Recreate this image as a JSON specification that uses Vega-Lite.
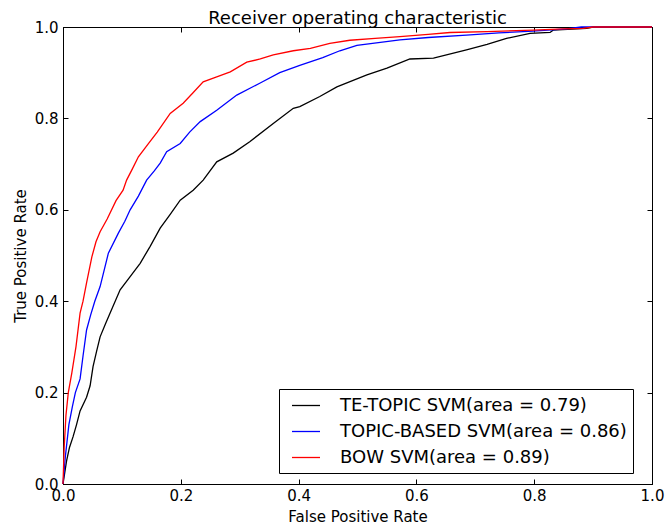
{
  "$schema": "https://vega.github.io/schema/vega-lite/v6.json",
  "width": 589,
  "height": 457,
  "autosize": "none",
  "padding": {"left": 63, "top": 27, "right": 13, "bottom": 47},
  "title": {"text": "Receiver operating characteristic", "fontSize": 18, "font": "DejaVu Sans", "fontWeight": "normal", "color": "black", "offset": -8},
  "config": {
    "font": "DejaVu Sans",
    "view": {"stroke": "black", "strokeWidth": 1},
    "axis": {
      "grid": false,
      "domainColor": "black",
      "tickColor": "black",
      "tickSize": -5,
      "labelFlush": false,
      "labelFontSize": 15,
      "labelColor": "black",
      "titleFontSize": 15,
      "titleFontWeight": "normal",
      "titleColor": "black"
    }
  },
  "data": {
    "values": [
      {"model": "TE-TOPIC SVM(area = 0.79)", "fpr": 0, "tpr": 0},
      {"model": "TE-TOPIC SVM(area = 0.79)", "fpr": 0.006, "tpr": 0.05},
      {"model": "TE-TOPIC SVM(area = 0.79)", "fpr": 0.011, "tpr": 0.08},
      {"model": "TE-TOPIC SVM(area = 0.79)", "fpr": 0.017, "tpr": 0.103},
      {"model": "TE-TOPIC SVM(area = 0.79)", "fpr": 0.023, "tpr": 0.13},
      {"model": "TE-TOPIC SVM(area = 0.79)", "fpr": 0.029, "tpr": 0.16},
      {"model": "TE-TOPIC SVM(area = 0.79)", "fpr": 0.04, "tpr": 0.19},
      {"model": "TE-TOPIC SVM(area = 0.79)", "fpr": 0.046, "tpr": 0.215},
      {"model": "TE-TOPIC SVM(area = 0.79)", "fpr": 0.051, "tpr": 0.257},
      {"model": "TE-TOPIC SVM(area = 0.79)", "fpr": 0.057, "tpr": 0.29},
      {"model": "TE-TOPIC SVM(area = 0.79)", "fpr": 0.063, "tpr": 0.322},
      {"model": "TE-TOPIC SVM(area = 0.79)", "fpr": 0.072, "tpr": 0.35},
      {"model": "TE-TOPIC SVM(area = 0.79)", "fpr": 0.08, "tpr": 0.374},
      {"model": "TE-TOPIC SVM(area = 0.79)", "fpr": 0.097, "tpr": 0.425},
      {"model": "TE-TOPIC SVM(area = 0.79)", "fpr": 0.114, "tpr": 0.454},
      {"model": "TE-TOPIC SVM(area = 0.79)", "fpr": 0.131, "tpr": 0.483},
      {"model": "TE-TOPIC SVM(area = 0.79)", "fpr": 0.148, "tpr": 0.52},
      {"model": "TE-TOPIC SVM(area = 0.79)", "fpr": 0.165, "tpr": 0.56},
      {"model": "TE-TOPIC SVM(area = 0.79)", "fpr": 0.182, "tpr": 0.59},
      {"model": "TE-TOPIC SVM(area = 0.79)", "fpr": 0.199, "tpr": 0.621},
      {"model": "TE-TOPIC SVM(area = 0.79)", "fpr": 0.221, "tpr": 0.643},
      {"model": "TE-TOPIC SVM(area = 0.79)", "fpr": 0.238, "tpr": 0.665},
      {"model": "TE-TOPIC SVM(area = 0.79)", "fpr": 0.261, "tpr": 0.705},
      {"model": "TE-TOPIC SVM(area = 0.79)", "fpr": 0.289, "tpr": 0.724},
      {"model": "TE-TOPIC SVM(area = 0.79)", "fpr": 0.317, "tpr": 0.749},
      {"model": "TE-TOPIC SVM(area = 0.79)", "fpr": 0.357, "tpr": 0.789},
      {"model": "TE-TOPIC SVM(area = 0.79)", "fpr": 0.391, "tpr": 0.822},
      {"model": "TE-TOPIC SVM(area = 0.79)", "fpr": 0.402, "tpr": 0.826},
      {"model": "TE-TOPIC SVM(area = 0.79)", "fpr": 0.436, "tpr": 0.848},
      {"model": "TE-TOPIC SVM(area = 0.79)", "fpr": 0.465, "tpr": 0.869},
      {"model": "TE-TOPIC SVM(area = 0.79)", "fpr": 0.516, "tpr": 0.895},
      {"model": "TE-TOPIC SVM(area = 0.79)", "fpr": 0.55, "tpr": 0.91},
      {"model": "TE-TOPIC SVM(area = 0.79)", "fpr": 0.589, "tpr": 0.93},
      {"model": "TE-TOPIC SVM(area = 0.79)", "fpr": 0.629, "tpr": 0.932},
      {"model": "TE-TOPIC SVM(area = 0.79)", "fpr": 0.685, "tpr": 0.95},
      {"model": "TE-TOPIC SVM(area = 0.79)", "fpr": 0.72, "tpr": 0.962},
      {"model": "TE-TOPIC SVM(area = 0.79)", "fpr": 0.753, "tpr": 0.975},
      {"model": "TE-TOPIC SVM(area = 0.79)", "fpr": 0.793, "tpr": 0.986},
      {"model": "TE-TOPIC SVM(area = 0.79)", "fpr": 0.827, "tpr": 0.988},
      {"model": "TE-TOPIC SVM(area = 0.79)", "fpr": 0.832, "tpr": 0.993},
      {"model": "TE-TOPIC SVM(area = 0.79)", "fpr": 0.889, "tpr": 0.997},
      {"model": "TE-TOPIC SVM(area = 0.79)", "fpr": 0.9, "tpr": 1.0},
      {"model": "TE-TOPIC SVM(area = 0.79)", "fpr": 1.0, "tpr": 1.0},

      {"model": "TOPIC-BASED SVM(area = 0.86)", "fpr": 0, "tpr": 0},
      {"model": "TOPIC-BASED SVM(area = 0.86)", "fpr": 0.004, "tpr": 0.06},
      {"model": "TOPIC-BASED SVM(area = 0.86)", "fpr": 0.01, "tpr": 0.13},
      {"model": "TOPIC-BASED SVM(area = 0.86)", "fpr": 0.016, "tpr": 0.17},
      {"model": "TOPIC-BASED SVM(area = 0.86)", "fpr": 0.021, "tpr": 0.2},
      {"model": "TOPIC-BASED SVM(area = 0.86)", "fpr": 0.029, "tpr": 0.23},
      {"model": "TOPIC-BASED SVM(area = 0.86)", "fpr": 0.034, "tpr": 0.28},
      {"model": "TOPIC-BASED SVM(area = 0.86)", "fpr": 0.04, "tpr": 0.337},
      {"model": "TOPIC-BASED SVM(area = 0.86)", "fpr": 0.047, "tpr": 0.37},
      {"model": "TOPIC-BASED SVM(area = 0.86)", "fpr": 0.054, "tpr": 0.4},
      {"model": "TOPIC-BASED SVM(area = 0.86)", "fpr": 0.063, "tpr": 0.432},
      {"model": "TOPIC-BASED SVM(area = 0.86)", "fpr": 0.077, "tpr": 0.505},
      {"model": "TOPIC-BASED SVM(area = 0.86)", "fpr": 0.094, "tpr": 0.549},
      {"model": "TOPIC-BASED SVM(area = 0.86)", "fpr": 0.105, "tpr": 0.575},
      {"model": "TOPIC-BASED SVM(area = 0.86)", "fpr": 0.114, "tpr": 0.6},
      {"model": "TOPIC-BASED SVM(area = 0.86)", "fpr": 0.128, "tpr": 0.63},
      {"model": "TOPIC-BASED SVM(area = 0.86)", "fpr": 0.142, "tpr": 0.665},
      {"model": "TOPIC-BASED SVM(area = 0.86)", "fpr": 0.155, "tpr": 0.685},
      {"model": "TOPIC-BASED SVM(area = 0.86)", "fpr": 0.165, "tpr": 0.702},
      {"model": "TOPIC-BASED SVM(area = 0.86)", "fpr": 0.176, "tpr": 0.727},
      {"model": "TOPIC-BASED SVM(area = 0.86)", "fpr": 0.199, "tpr": 0.745},
      {"model": "TOPIC-BASED SVM(area = 0.86)", "fpr": 0.215, "tpr": 0.77},
      {"model": "TOPIC-BASED SVM(area = 0.86)", "fpr": 0.233, "tpr": 0.793},
      {"model": "TOPIC-BASED SVM(area = 0.86)", "fpr": 0.261, "tpr": 0.818},
      {"model": "TOPIC-BASED SVM(area = 0.86)", "fpr": 0.295, "tpr": 0.851},
      {"model": "TOPIC-BASED SVM(area = 0.86)", "fpr": 0.334, "tpr": 0.877},
      {"model": "TOPIC-BASED SVM(area = 0.86)", "fpr": 0.368, "tpr": 0.9},
      {"model": "TOPIC-BASED SVM(area = 0.86)", "fpr": 0.402, "tpr": 0.916},
      {"model": "TOPIC-BASED SVM(area = 0.86)", "fpr": 0.441, "tpr": 0.933},
      {"model": "TOPIC-BASED SVM(area = 0.86)", "fpr": 0.47, "tpr": 0.948},
      {"model": "TOPIC-BASED SVM(area = 0.86)", "fpr": 0.499, "tpr": 0.96},
      {"model": "TOPIC-BASED SVM(area = 0.86)", "fpr": 0.572, "tpr": 0.972},
      {"model": "TOPIC-BASED SVM(area = 0.86)", "fpr": 0.62, "tpr": 0.977},
      {"model": "TOPIC-BASED SVM(area = 0.86)", "fpr": 0.685, "tpr": 0.982},
      {"model": "TOPIC-BASED SVM(area = 0.86)", "fpr": 0.74, "tpr": 0.987},
      {"model": "TOPIC-BASED SVM(area = 0.86)", "fpr": 0.798, "tpr": 0.991},
      {"model": "TOPIC-BASED SVM(area = 0.86)", "fpr": 0.855, "tpr": 0.996},
      {"model": "TOPIC-BASED SVM(area = 0.86)", "fpr": 0.88, "tpr": 1.0},
      {"model": "TOPIC-BASED SVM(area = 0.86)", "fpr": 1.0, "tpr": 1.0},

      {"model": "BOW SVM(area = 0.89)", "fpr": 0, "tpr": 0},
      {"model": "BOW SVM(area = 0.89)", "fpr": 0.002, "tpr": 0.08},
      {"model": "BOW SVM(area = 0.89)", "fpr": 0.005, "tpr": 0.15},
      {"model": "BOW SVM(area = 0.89)", "fpr": 0.009, "tpr": 0.2},
      {"model": "BOW SVM(area = 0.89)", "fpr": 0.015, "tpr": 0.243},
      {"model": "BOW SVM(area = 0.89)", "fpr": 0.022, "tpr": 0.3},
      {"model": "BOW SVM(area = 0.89)", "fpr": 0.029, "tpr": 0.374},
      {"model": "BOW SVM(area = 0.89)", "fpr": 0.034, "tpr": 0.4},
      {"model": "BOW SVM(area = 0.89)", "fpr": 0.04, "tpr": 0.44},
      {"model": "BOW SVM(area = 0.89)", "fpr": 0.049, "tpr": 0.497},
      {"model": "BOW SVM(area = 0.89)", "fpr": 0.056, "tpr": 0.53},
      {"model": "BOW SVM(area = 0.89)", "fpr": 0.063, "tpr": 0.552},
      {"model": "BOW SVM(area = 0.89)", "fpr": 0.075, "tpr": 0.58},
      {"model": "BOW SVM(area = 0.89)", "fpr": 0.09, "tpr": 0.62},
      {"model": "BOW SVM(area = 0.89)", "fpr": 0.102, "tpr": 0.643},
      {"model": "BOW SVM(area = 0.89)", "fpr": 0.108, "tpr": 0.665},
      {"model": "BOW SVM(area = 0.89)", "fpr": 0.118, "tpr": 0.69},
      {"model": "BOW SVM(area = 0.89)", "fpr": 0.128, "tpr": 0.716},
      {"model": "BOW SVM(area = 0.89)", "fpr": 0.145, "tpr": 0.745},
      {"model": "BOW SVM(area = 0.89)", "fpr": 0.16, "tpr": 0.77},
      {"model": "BOW SVM(area = 0.89)", "fpr": 0.182, "tpr": 0.811},
      {"model": "BOW SVM(area = 0.89)", "fpr": 0.204, "tpr": 0.833},
      {"model": "BOW SVM(area = 0.89)", "fpr": 0.22, "tpr": 0.855},
      {"model": "BOW SVM(area = 0.89)", "fpr": 0.238, "tpr": 0.88},
      {"model": "BOW SVM(area = 0.89)", "fpr": 0.261, "tpr": 0.891},
      {"model": "BOW SVM(area = 0.89)", "fpr": 0.284, "tpr": 0.902},
      {"model": "BOW SVM(area = 0.89)", "fpr": 0.312, "tpr": 0.923},
      {"model": "BOW SVM(area = 0.89)", "fpr": 0.335, "tpr": 0.93},
      {"model": "BOW SVM(area = 0.89)", "fpr": 0.357, "tpr": 0.939},
      {"model": "BOW SVM(area = 0.89)", "fpr": 0.391, "tpr": 0.948},
      {"model": "BOW SVM(area = 0.89)", "fpr": 0.42, "tpr": 0.953},
      {"model": "BOW SVM(area = 0.89)", "fpr": 0.453, "tpr": 0.964},
      {"model": "BOW SVM(area = 0.89)", "fpr": 0.487, "tpr": 0.971},
      {"model": "BOW SVM(area = 0.89)", "fpr": 0.53, "tpr": 0.975},
      {"model": "BOW SVM(area = 0.89)", "fpr": 0.572, "tpr": 0.979},
      {"model": "BOW SVM(area = 0.89)", "fpr": 0.62, "tpr": 0.984},
      {"model": "BOW SVM(area = 0.89)", "fpr": 0.657, "tpr": 0.988},
      {"model": "BOW SVM(area = 0.89)", "fpr": 0.72, "tpr": 0.99},
      {"model": "BOW SVM(area = 0.89)", "fpr": 0.798, "tpr": 0.993},
      {"model": "BOW SVM(area = 0.89)", "fpr": 0.85, "tpr": 0.996},
      {"model": "BOW SVM(area = 0.89)", "fpr": 0.883, "tpr": 0.997},
      {"model": "BOW SVM(area = 0.89)", "fpr": 0.9, "tpr": 1.0},
      {"model": "BOW SVM(area = 0.89)", "fpr": 1.0, "tpr": 1.0}
    ]
  },
  "layer": [
    {
      "mark": {"type": "line", "strokeWidth": 1.3, "interpolate": "linear"},
      "encoding": {
        "x": {
          "field": "fpr", "type": "quantitative",
          "scale": {"domain": [0, 1], "nice": false, "zero": false},
          "axis": {"title": "False Positive Rate", "values": [0, 0.2, 0.4, 0.6, 0.8, 1.0], "format": ".1f", "labelPadding": 9, "titlePadding": 6}
        },
        "y": {
          "field": "tpr", "type": "quantitative",
          "scale": {"domain": [0, 1], "nice": false, "zero": false},
          "axis": {"title": "True Positive Rate", "values": [0, 0.2, 0.4, 0.6, 0.8, 1.0], "format": ".1f", "labelPadding": 10, "titlePadding": 6}
        },
        "color": {
          "field": "model", "type": "nominal",
          "scale": {
            "domain": ["TE-TOPIC SVM(area = 0.79)", "TOPIC-BASED SVM(area = 0.86)", "BOW SVM(area = 0.89)"],
            "range": ["#000000", "#0000ff", "#ff0000"]
          },
          "legend": {
            "title": null,
            "orient": "none",
            "legendX": 216,
            "legendY": 362,
            "padding": 6,
            "fillColor": "white",
            "strokeColor": "black",
            "cornerRadius": 0,
            "labelFontSize": 18,
            "labelColor": "black",
            "labelLimit": 400,
            "labelOffset": 34,
            "rowPadding": 6,
            "symbolType": "M-0.37,0H2.58",
            "symbolSize": 361,
            "symbolStrokeWidth": 1.3,
            "symbolFillColor": "transparent"
          }
        }
      }
    },
    {
      "mark": {"type": "line", "opacity": 0},
      "encoding": {
        "x": {"field": "fpr", "type": "quantitative", "axis": {"orient": "top", "labels": false, "title": null, "values": [0, 0.2, 0.4, 0.6, 0.8, 1.0]}},
        "y": {"field": "tpr", "type": "quantitative", "axis": {"orient": "right", "labels": false, "title": null, "values": [0, 0.2, 0.4, 0.6, 0.8, 1.0]}}
      }
    }
  ],
  "resolve": {"axis": {"x": "independent", "y": "independent"}}
}
